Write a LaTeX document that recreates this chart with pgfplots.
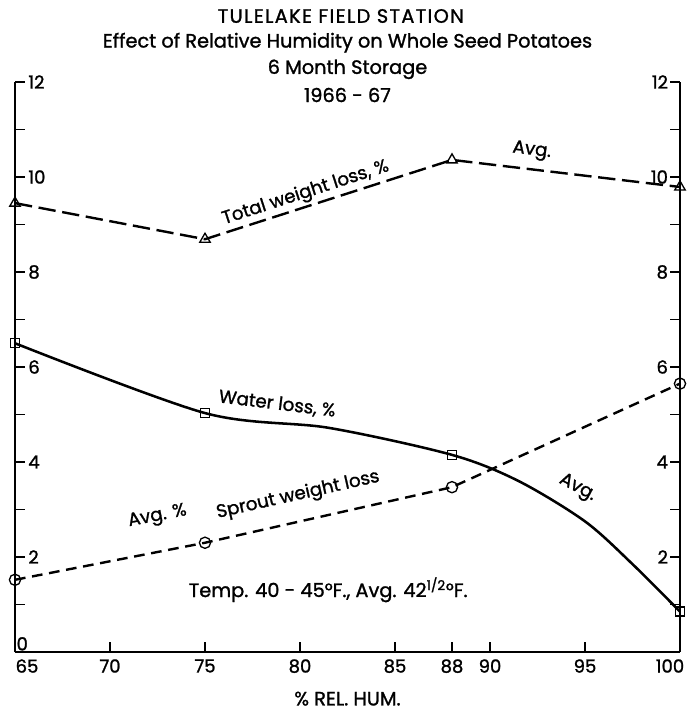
\documentclass[border=0pt]{standalone}
\usepackage{fontspec}
\setmainfont{Poppins}[FakeBold=1.3]
\usepackage{pgfplots}
\pgfplotsset{compat=1.18}
\begin{document}
\begin{tikzpicture}
\useasboundingbox (-11.25pt,-47.25pt) rectangle (509.25pt,489pt);
\pgfplotsset{
  common/.style={
    at={(0,0)}, anchor=south west,
    scale only axis, width=498.75pt, height=427.5pt,
    xmin=65, xmax=100, ymin=0, ymax=12,
    clip=false,
    tick align=inside,
    major tick length=7.5pt, minor tick length=7.5pt,
    every tick/.style={black, line width=1.1pt},
    axis line style={line width=1.4pt,-},
    /pgf/number format/assume math mode=true,
    ticklabel style={font=\fontsize{13.5}{15}\selectfont},
  }
}
\begin{axis}[common,
  axis x line*=bottom, axis y line*=left,
  xtick={65,70,75,80,85,88,90,95,100},
  xticklabels={,70,75,80,85,88,90,95,},
  xtick pos=left, xticklabel pos=left,
  xticklabel style={yshift=-2pt},
  ytick={2,4,...,12}, minor ytick={1,3,...,11},
  ytick pos=left, yticklabel pos=left,
  yticklabel style={anchor=west, xshift=6.5pt},
]
% Total weight loss
\addplot[line width=1.8pt, dash pattern=on 13pt off 5pt, mark=triangle,
  mark options={solid, fill=white, line width=1pt}, mark size=4.5pt]
  coordinates {(65,9.45)(75,8.69)(88,10.36)(100,9.79)};
% Water loss
\addplot[line width=1.9pt, smooth, no marks]
  coordinates {(65,6.5)(75,5.03)(81.5,4.72)(88,4.15)(91.5,3.6)(95,2.75)(97.5,1.85)(100,0.85)};
\addplot[only marks, mark=square, mark options={fill=white, line width=1pt}, mark size=3.4pt]
  coordinates {(65,6.5)(75,5.03)(88,4.15)(100,0.85)};
% Sprout weight loss
\addplot[line width=1.8pt, dash pattern=on 8pt off 5pt, mark=o,
  mark options={solid, fill=white, line width=1pt}, mark size=4.2pt]
  coordinates {(65,1.52)(75,2.3)(88,3.47)(100,5.65)};

\node[font=\fontsize{13.5}{15}\selectfont, anchor=south west, inner sep=1pt] at (axis cs:65,0) {0};
\node[font=\fontsize{13.5}{15}\selectfont, anchor=north, yshift=-2pt, xshift=9pt] at (axis cs:65,0) {65};
\node[font=\fontsize{13.5}{15}\selectfont, anchor=north, yshift=-2pt, xshift=-7.5pt] at (axis cs:100,0) {100};
\node[font=\fontsize{14.5}{16}\selectfont\addfontfeature{LetterSpace=7}] at (rel axis cs:0.5,1) [yshift=49.5pt, xshift=-5pt] {TULELAKE FIELD STATION};
\node[font=\fontsize{14.5}{16}\selectfont] at (rel axis cs:0.5,1) [yshift=29.5pt] {Effect of Relative Humidity on Whole Seed Potatoes};
\node[font=\fontsize{14.5}{16}\selectfont] at (rel axis cs:0.5,1) [yshift=9.5pt] {6 Month Storage};
\node[font=\fontsize{14.5}{16}\selectfont] at (rel axis cs:0.5,1) [yshift=-9.75pt] {1966 - 67};
\node[font=\fontsize{14.5}{16}\selectfont] at (rel axis cs:0.5,0) [yshift=-35pt] {\% REL. HUM.};

\node[font=\fontsize{13.7}{15}\selectfont, rotate=18] at (axis cs:80.3,9.66) {Total weight loss, \%};
\node[font=\fontsize{13.7}{15}\selectfont, rotate=-7] at (axis cs:92.2,10.55) {Avg.};
\node[font=\fontsize{13.7}{15}\selectfont, rotate=-7] at (axis cs:78.8,5.22) {Water loss, \%};
\node[font=\fontsize{13.7}{15}\selectfont, rotate=-28] at (axis cs:94.6,3.45) {Avg.};
\node[font=\fontsize{13.7}{15}\selectfont, rotate=11] at (axis cs:72.5,2.85) {Avg. \%};
\node[font=\fontsize{13.7}{15}\selectfont, rotate=12.7] at (axis cs:79.9,3.3) {Sprout weight loss};
\node[font=\fontsize{14.5}{16}\selectfont, anchor=west] at (axis cs:73.9,1.31) {Temp. 40 - 45°F., Avg. 42\textsuperscript{1/2}°F.};
\end{axis}
\begin{axis}[common,
  axis x line=none, axis y line*=right,
  xtick=\empty,
  ytick={2,4,...,12}, minor ytick={1,3,...,11},
  ytick pos=right, yticklabel pos=right,
  yticklabel style={anchor=east, xshift=-5.5pt},
]
\end{axis}
\end{tikzpicture}
\end{document}
